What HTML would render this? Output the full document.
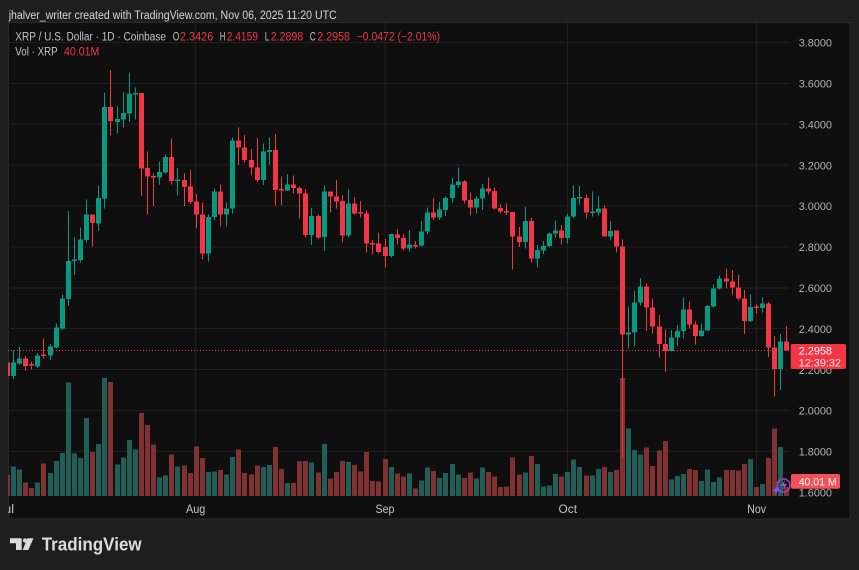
<!DOCTYPE html>
<html><head><meta charset="utf-8"><style>
html,body{margin:0;padding:0;background:#1e1e1e;}
svg{display:block;}
text{font-family:"Liberation Sans",Arial,sans-serif;}
</style></head><body>
<svg width="859" height="570" viewBox="0 0 859 570" xmlns="http://www.w3.org/2000/svg">
<defs>
<clipPath id="pane"><rect x="8" y="23" width="782" height="473"/></clipPath>
<clipPath id="taxis"><rect x="8" y="496" width="842" height="23"/></clipPath>
</defs>
<rect x="0" y="0" width="859" height="570" fill="#1e1e1e"/>
<text x="8.7" y="19" font-size="11.5" fill="#d6d6d6" textLength="328" lengthAdjust="spacingAndGlyphs">jhalver_writer created with TradingView.com, Nov 06, 2025 11:20 UTC</text>
<rect x="8.5" y="22.5" width="841.5" height="496.5" fill="#0f0f0f" stroke="#2a2a2a" stroke-width="1"/>

<!-- grid -->
<g stroke="#1f1f1f" stroke-width="1" shape-rendering="crispEdges">
<line x1="8" y1="42.4" x2="790" y2="42.4"/>
<line x1="8" y1="83.3" x2="790" y2="83.3"/>
<line x1="8" y1="124.2" x2="790" y2="124.2"/>
<line x1="8" y1="165.1" x2="790" y2="165.1"/>
<line x1="8" y1="206" x2="790" y2="206"/>
<line x1="8" y1="246.9" x2="790" y2="246.9"/>
<line x1="8" y1="287.8" x2="790" y2="287.8"/>
<line x1="8" y1="328.7" x2="790" y2="328.7"/>
<line x1="8" y1="369.6" x2="790" y2="369.6"/>
<line x1="8" y1="410.5" x2="790" y2="410.5"/>
<line x1="8" y1="451.4" x2="790" y2="451.4"/>
<line x1="8" y1="492.3" x2="790" y2="492.3"/>
<line x1="195.5" y1="23" x2="195.5" y2="496"/>
<line x1="385" y1="23" x2="385" y2="496"/>
<line x1="567.5" y1="23" x2="567.5" y2="496"/>
<line x1="756.5" y1="23" x2="756.5" y2="496"/>
</g>

<g clip-path="url(#pane)" shape-rendering="crispEdges">
<!-- volume green -->
<g fill="#215e57">
<rect x="11" y="466.7" width="5" height="29.3"/><rect x="17" y="469.3" width="5" height="26.7"/><rect x="35" y="482.3" width="5" height="13.7"/><rect x="48" y="473" width="5" height="23"/><rect x="54" y="461" width="5" height="35"/><rect x="60" y="453" width="5" height="43"/><rect x="66" y="382.3" width="5" height="113.7"/><rect x="72" y="453.3" width="5" height="42.7"/><rect x="78" y="458" width="5" height="38"/><rect x="84" y="418" width="5" height="78"/><rect x="96" y="444" width="5" height="52"/><rect x="102" y="378" width="5" height="118"/><rect x="115" y="464.3" width="5" height="31.7"/><rect x="121" y="457.7" width="5" height="38.3"/><rect x="127" y="440" width="5" height="56"/><rect x="133" y="449.7" width="5" height="46.3"/><rect x="157" y="477.7" width="5" height="18.3"/><rect x="163" y="475.7" width="5" height="20.3"/><rect x="175" y="466.3" width="5" height="29.7"/><rect x="206" y="472" width="5" height="24"/><rect x="212" y="471.3" width="5" height="24.7"/><rect x="224" y="474.7" width="5" height="21.3"/><rect x="230" y="457" width="5" height="39"/><rect x="261" y="467" width="5" height="29"/><rect x="267" y="465" width="5" height="31"/><rect x="285" y="483" width="5" height="13"/><rect x="309" y="462.3" width="5" height="33.7"/><rect x="322" y="444" width="5" height="52"/><rect x="346" y="462" width="5" height="34"/><rect x="389" y="467" width="5" height="29"/><rect x="407" y="473.7" width="5" height="22.3"/><rect x="419" y="480.7" width="5" height="15.3"/><rect x="425" y="467.3" width="5" height="28.7"/><rect x="437" y="478" width="5" height="18"/><rect x="443" y="473" width="5" height="23"/><rect x="450" y="464" width="5" height="32"/><rect x="456" y="474.3" width="5" height="21.7"/><rect x="474" y="478.7" width="5" height="17.3"/><rect x="480" y="467.3" width="5" height="28.7"/><rect x="523" y="472.3" width="5" height="23.7"/><rect x="535" y="464" width="5" height="32"/><rect x="541" y="486.3" width="5" height="9.7"/><rect x="547" y="485.7" width="5" height="10.3"/><rect x="553" y="474" width="5" height="22"/><rect x="565" y="472" width="5" height="24"/><rect x="571" y="459.7" width="5" height="36.3"/><rect x="577" y="467" width="5" height="29"/><rect x="590" y="475.7" width="5" height="20.3"/><rect x="596" y="469" width="5" height="27"/><rect x="608" y="472" width="5" height="24"/><rect x="626" y="428.3" width="5" height="67.7"/><rect x="632" y="450" width="5" height="46"/><rect x="638" y="454.3" width="5" height="41.7"/><rect x="669" y="479.3" width="5" height="16.7"/><rect x="675" y="476" width="5" height="20"/><rect x="681" y="474" width="5" height="22"/><rect x="699" y="481" width="5" height="15"/><rect x="705" y="469.7" width="5" height="26.3"/><rect x="711" y="482" width="5" height="14"/><rect x="717" y="477.7" width="5" height="18.3"/><rect x="748" y="459" width="5" height="37"/><rect x="760" y="484" width="5" height="12"/><rect x="778" y="447" width="5" height="49"/>
</g>
<!-- volume red -->
<g fill="#7f3231">
<rect x="5" y="475" width="5" height="21"/><rect x="23" y="482.7" width="5" height="13.3"/><rect x="29" y="488" width="5" height="8"/><rect x="41" y="463.3" width="5" height="32.7"/><rect x="90" y="452" width="5" height="44"/><rect x="108" y="382" width="5" height="114"/><rect x="139" y="413" width="5" height="83"/><rect x="145" y="425" width="5" height="71"/><rect x="151" y="444.3" width="5" height="51.7"/><rect x="169" y="454.3" width="5" height="41.7"/><rect x="182" y="465.3" width="5" height="30.7"/><rect x="188" y="473" width="5" height="23"/><rect x="194" y="446.3" width="5" height="49.7"/><rect x="200" y="458" width="5" height="38"/><rect x="218" y="470" width="5" height="26"/><rect x="236" y="449.3" width="5" height="46.7"/><rect x="242" y="473" width="5" height="23"/><rect x="249" y="474.3" width="5" height="21.7"/><rect x="255" y="465.7" width="5" height="30.3"/><rect x="273" y="447" width="5" height="49"/><rect x="279" y="469" width="5" height="27"/><rect x="291" y="483" width="5" height="13"/><rect x="297" y="461" width="5" height="35"/><rect x="303" y="461" width="5" height="35"/><rect x="316" y="472.7" width="5" height="23.3"/><rect x="328" y="478.3" width="5" height="17.7"/><rect x="334" y="472" width="5" height="24"/><rect x="340" y="461" width="5" height="35"/><rect x="352" y="465" width="5" height="31"/><rect x="358" y="471.3" width="5" height="24.7"/><rect x="364" y="452" width="5" height="44"/><rect x="370" y="481" width="5" height="15"/><rect x="376" y="481.3" width="5" height="14.7"/><rect x="383" y="459" width="5" height="37"/><rect x="395" y="473.7" width="5" height="22.3"/><rect x="401" y="476.7" width="5" height="19.3"/><rect x="413" y="488.3" width="5" height="7.7"/><rect x="431" y="471" width="5" height="25"/><rect x="462" y="478" width="5" height="18"/><rect x="468" y="472.7" width="5" height="23.3"/><rect x="486" y="472" width="5" height="24"/><rect x="492" y="476.3" width="5" height="19.7"/><rect x="498" y="487" width="5" height="9"/><rect x="504" y="486.3" width="5" height="9.7"/><rect x="510" y="457.7" width="5" height="38.3"/><rect x="517" y="474.3" width="5" height="21.7"/><rect x="529" y="456" width="5" height="40"/><rect x="559" y="476.3" width="5" height="19.7"/><rect x="584" y="475.3" width="5" height="20.7"/><rect x="602" y="467" width="5" height="29"/><rect x="614" y="470" width="5" height="26"/><rect x="620" y="378" width="5" height="118"/><rect x="644" y="447.7" width="5" height="48.3"/><rect x="650" y="466" width="5" height="30"/><rect x="657" y="450.7" width="5" height="45.3"/><rect x="663" y="441" width="5" height="55"/><rect x="687" y="469" width="5" height="27"/><rect x="693" y="470" width="5" height="26"/><rect x="724" y="470" width="5" height="26"/><rect x="730" y="470" width="5" height="26"/><rect x="736" y="470.3" width="5" height="25.7"/><rect x="742" y="464" width="5" height="32"/><rect x="754" y="487" width="5" height="9"/><rect x="766" y="458" width="5" height="38"/><rect x="772" y="428.3" width="5" height="67.7"/><rect x="784" y="487" width="5" height="9"/>
</g>

<!-- green candles -->
<g fill="#089981">
<rect x="13" y="350.7" width="1" height="28.3"/><rect x="11" y="362.7" width="5" height="13.3"/>
<rect x="19" y="346.7" width="1" height="18.3"/><rect x="17" y="358.3" width="5" height="5"/>
<rect x="37" y="353.3" width="1" height="14.7"/><rect x="35" y="355.3" width="5" height="11.4"/>
<rect x="50" y="344" width="1" height="16"/><rect x="48" y="346.7" width="5" height="9"/>
<rect x="56" y="323.3" width="1" height="25.4"/><rect x="54" y="327.7" width="5" height="19.6"/>
<rect x="62" y="294.3" width="1" height="35.7"/><rect x="60" y="298.7" width="5" height="29.6"/>
<rect x="68" y="211" width="1" height="95"/><rect x="66" y="261" width="5" height="38"/>
<rect x="74" y="237.3" width="1" height="37.7"/><rect x="72" y="259.3" width="5" height="1.7"/>
<rect x="80" y="227.3" width="1" height="35.4"/><rect x="78" y="239.3" width="5" height="20.7"/>
<rect x="86" y="199.3" width="1" height="43.4"/><rect x="84" y="214.3" width="5" height="25.7"/>
<rect x="98" y="185.3" width="1" height="45.7"/><rect x="96" y="198" width="5" height="25.3"/>
<rect x="104" y="92.7" width="1" height="116"/><rect x="102" y="107" width="5" height="91.3"/>
<rect x="117" y="106" width="1" height="27.3"/><rect x="115" y="119" width="5" height="3"/>
<rect x="123" y="92" width="1" height="35.3"/><rect x="121" y="113" width="5" height="6.3"/>
<rect x="129" y="72.7" width="1" height="49.3"/><rect x="127" y="93.3" width="5" height="20"/>
<rect x="135" y="87.3" width="1" height="32"/><rect x="133" y="93" width="5" height="1.5"/>
<rect x="159" y="161.3" width="1" height="23"/><rect x="157" y="172" width="5" height="5.3"/>
<rect x="165" y="154.3" width="1" height="19.4"/><rect x="163" y="157" width="5" height="15.3"/>
<rect x="177" y="168" width="1" height="27.3"/><rect x="175" y="179.5" width="5" height="1.5"/>
<rect x="208" y="214.3" width="1" height="47.4"/><rect x="206" y="217" width="5" height="36.7"/>
<rect x="214" y="188.3" width="1" height="31.7"/><rect x="212" y="191.3" width="5" height="25.7"/>
<rect x="226" y="202.3" width="1" height="24.4"/><rect x="224" y="208.3" width="5" height="6"/>
<rect x="232" y="137.7" width="1" height="76"/><rect x="230" y="140.7" width="5" height="67.6"/>
<rect x="263" y="143.3" width="1" height="41.7"/><rect x="261" y="151.3" width="5" height="28.7"/>
<rect x="269" y="137.7" width="1" height="27"/><rect x="267" y="150" width="5" height="2"/>
<rect x="287" y="174" width="1" height="17"/><rect x="285" y="184.3" width="5" height="6"/>
<rect x="311" y="208" width="1" height="37"/><rect x="309" y="216" width="5" height="19"/>
<rect x="324" y="185" width="1" height="66"/><rect x="322" y="191.3" width="5" height="45.7"/>
<rect x="348" y="189.3" width="1" height="48.4"/><rect x="346" y="203.3" width="5" height="32.4"/>
<rect x="391" y="234" width="1" height="23.3"/><rect x="389" y="234" width="5" height="22"/>
<rect x="409" y="230" width="1" height="21.7"/><rect x="407" y="244.3" width="5" height="4.4"/>
<rect x="421" y="221" width="1" height="25.7"/><rect x="419" y="231.7" width="5" height="14"/>
<rect x="427" y="207.3" width="1" height="26.7"/><rect x="425" y="212.3" width="5" height="19.4"/>
<rect x="439" y="201.3" width="1" height="18.7"/><rect x="437" y="209.3" width="5" height="8"/>
<rect x="445" y="196.7" width="1" height="19.3"/><rect x="443" y="198" width="5" height="12"/>
<rect x="452" y="178" width="1" height="24.7"/><rect x="450" y="184.3" width="5" height="13.7"/>
<rect x="458" y="167.7" width="1" height="19.6"/><rect x="456" y="181.3" width="5" height="3.7"/>
<rect x="476" y="196.7" width="1" height="16.6"/><rect x="474" y="198.3" width="5" height="9"/>
<rect x="482" y="184" width="1" height="26"/><rect x="480" y="188.7" width="5" height="10"/>
<rect x="525" y="207" width="1" height="41.7"/><rect x="523" y="221" width="5" height="21"/>
<rect x="537" y="245" width="1" height="22.3"/><rect x="535" y="250" width="5" height="8.7"/>
<rect x="543" y="241" width="1" height="13.3"/><rect x="541" y="246" width="5" height="4.7"/>
<rect x="549" y="232.3" width="1" height="15"/><rect x="547" y="233.3" width="5" height="12.7"/>
<rect x="555" y="220.7" width="1" height="17.3"/><rect x="553" y="230.7" width="5" height="2.6"/>
<rect x="567" y="213.3" width="1" height="30"/><rect x="565" y="216.7" width="5" height="21.3"/>
<rect x="573" y="185.3" width="1" height="32.7"/><rect x="571" y="198" width="5" height="18.7"/>
<rect x="579" y="186" width="1" height="18.3"/><rect x="577" y="197" width="5" height="1.5"/>
<rect x="592" y="191.3" width="1" height="25.4"/><rect x="590" y="211.5" width="5" height="1.5"/>
<rect x="598" y="196" width="1" height="19.3"/><rect x="596" y="208.7" width="5" height="4"/>
<rect x="610" y="221" width="1" height="19.7"/><rect x="608" y="231" width="5" height="5.3"/>
<rect x="628" y="306.7" width="1" height="41.6"/><rect x="626" y="332.3" width="5" height="2"/>
<rect x="634" y="290.7" width="1" height="56"/><rect x="632" y="302.7" width="5" height="29.6"/>
<rect x="640" y="278" width="1" height="27.7"/><rect x="638" y="286.7" width="5" height="16"/>
<rect x="671" y="330" width="1" height="21.7"/><rect x="669" y="337.3" width="5" height="13.7"/>
<rect x="677" y="325" width="1" height="21"/><rect x="675" y="331" width="5" height="6.3"/>
<rect x="683" y="297.7" width="1" height="40.6"/><rect x="681" y="309.3" width="5" height="21.7"/>
<rect x="701" y="323.3" width="1" height="13.4"/><rect x="699" y="330.3" width="5" height="5.7"/>
<rect x="707" y="305" width="1" height="26"/><rect x="705" y="306" width="5" height="24.3"/>
<rect x="713" y="284.3" width="1" height="23.4"/><rect x="711" y="288.7" width="5" height="18"/>
<rect x="719" y="275.3" width="1" height="14"/><rect x="717" y="278.7" width="5" height="10"/>
<rect x="750" y="294.3" width="1" height="27.7"/><rect x="748" y="307" width="5" height="14"/>
<rect x="762" y="297.3" width="1" height="15.4"/><rect x="760" y="303.3" width="5" height="4.7"/>
<rect x="780" y="334" width="1" height="56"/><rect x="778" y="341.3" width="5" height="27.7"/>
</g>
<!-- red candles -->
<g fill="#f23645">
<rect x="7" y="360" width="1" height="18"/><rect x="5" y="362.7" width="5" height="13.3"/>
<rect x="25" y="356" width="1" height="14.7"/><rect x="23" y="358.3" width="5" height="7.7"/>
<rect x="31" y="361.7" width="1" height="7.6"/><rect x="29" y="364" width="5" height="1.5"/>
<rect x="43" y="338.3" width="1" height="20"/><rect x="41" y="354.5" width="5" height="1.5"/>
<rect x="92" y="214.3" width="1" height="32.4"/><rect x="90" y="214.3" width="5" height="8.7"/>
<rect x="110" y="70" width="1" height="65.7"/><rect x="108" y="107" width="5" height="14"/>
<rect x="141" y="93" width="1" height="103"/><rect x="139" y="93" width="5" height="75.7"/>
<rect x="147" y="151.3" width="1" height="63"/><rect x="145" y="168" width="5" height="8.7"/>
<rect x="153" y="173.3" width="1" height="32.7"/><rect x="151" y="176" width="5" height="1.5"/>
<rect x="171" y="138.3" width="1" height="46"/><rect x="169" y="157" width="5" height="24"/>
<rect x="184" y="173" width="1" height="33"/><rect x="182" y="180" width="5" height="7"/>
<rect x="190" y="170" width="1" height="34"/><rect x="188" y="186.3" width="5" height="15.7"/>
<rect x="196" y="194" width="1" height="34"/><rect x="194" y="201.3" width="5" height="13.4"/>
<rect x="202" y="202.3" width="1" height="57.4"/><rect x="200" y="214.3" width="5" height="39.4"/>
<rect x="220" y="184.3" width="1" height="42.4"/><rect x="218" y="191.3" width="5" height="23"/>
<rect x="238" y="127.3" width="1" height="37.7"/><rect x="236" y="140.7" width="5" height="7"/>
<rect x="244" y="135" width="1" height="27.7"/><rect x="242" y="147.7" width="5" height="12.3"/>
<rect x="251" y="149" width="1" height="26"/><rect x="249" y="160" width="5" height="7.7"/>
<rect x="257" y="138" width="1" height="44"/><rect x="255" y="167.7" width="5" height="12.3"/>
<rect x="275" y="134" width="1" height="71.7"/><rect x="273" y="150" width="5" height="40"/>
<rect x="281" y="176.7" width="1" height="28.3"/><rect x="279" y="189" width="5" height="1.5"/>
<rect x="293" y="175.3" width="1" height="18"/><rect x="291" y="184.3" width="5" height="3.7"/>
<rect x="299" y="186.7" width="1" height="31.6"/><rect x="297" y="188" width="5" height="5.7"/>
<rect x="305" y="189" width="1" height="48.3"/><rect x="303" y="193.7" width="5" height="41.3"/>
<rect x="318" y="214.3" width="1" height="24.7"/><rect x="316" y="216" width="5" height="21.3"/>
<rect x="330" y="191.3" width="1" height="21.4"/><rect x="328" y="191.3" width="5" height="5.4"/>
<rect x="336" y="180" width="1" height="28.3"/><rect x="334" y="196.7" width="5" height="4.6"/>
<rect x="342" y="195" width="1" height="47.3"/><rect x="340" y="201" width="5" height="34.7"/>
<rect x="354" y="197" width="1" height="17.3"/><rect x="352" y="203.3" width="5" height="10"/>
<rect x="360" y="201" width="1" height="16.3"/><rect x="358" y="212" width="5" height="1.5"/>
<rect x="366" y="210.7" width="1" height="41.6"/><rect x="364" y="213.3" width="5" height="30"/>
<rect x="372" y="240" width="1" height="14.7"/><rect x="370" y="243" width="5" height="1.5"/>
<rect x="378" y="232.7" width="1" height="20.6"/><rect x="376" y="243.3" width="5" height="8.7"/>
<rect x="385" y="239" width="1" height="28.7"/><rect x="383" y="247" width="5" height="9"/>
<rect x="397" y="229" width="1" height="15.3"/><rect x="395" y="234.7" width="5" height="3.3"/>
<rect x="403" y="234" width="1" height="16.3"/><rect x="401" y="238" width="5" height="10.7"/>
<rect x="415" y="241" width="1" height="7.7"/><rect x="413" y="245" width="5" height="1.5"/>
<rect x="433" y="198.7" width="1" height="21.3"/><rect x="431" y="212.3" width="5" height="5"/>
<rect x="464" y="180" width="1" height="23.7"/><rect x="462" y="181.3" width="5" height="19.4"/>
<rect x="470" y="192.3" width="1" height="23.4"/><rect x="468" y="200" width="5" height="7.3"/>
<rect x="488" y="177.3" width="1" height="17"/><rect x="486" y="188.7" width="5" height="2.6"/>
<rect x="494" y="187.3" width="1" height="22.4"/><rect x="492" y="191" width="5" height="17.7"/>
<rect x="500" y="204" width="1" height="9.3"/><rect x="498" y="208" width="5" height="3.3"/>
<rect x="506" y="203.3" width="1" height="11.7"/><rect x="504" y="211" width="5" height="1.5"/>
<rect x="512" y="212" width="1" height="57.7"/><rect x="510" y="212" width="5" height="24.3"/>
<rect x="519" y="227" width="1" height="20"/><rect x="517" y="236.3" width="5" height="5.7"/>
<rect x="531" y="217.3" width="1" height="45"/><rect x="529" y="221" width="5" height="37.7"/>
<rect x="561" y="225" width="1" height="19.3"/><rect x="559" y="230.7" width="5" height="7.3"/>
<rect x="586" y="194.7" width="1" height="24"/><rect x="584" y="198" width="5" height="14.7"/>
<rect x="604" y="205.7" width="1" height="30.6"/><rect x="602" y="208.7" width="5" height="27.6"/>
<rect x="616" y="230.7" width="1" height="21.6"/><rect x="614" y="230.7" width="5" height="16"/>
<rect x="622" y="239.3" width="1" height="217.7"/><rect x="620" y="246.7" width="5" height="87.6"/>
<rect x="646" y="283.3" width="1" height="47.7"/><rect x="644" y="286.7" width="5" height="21"/>
<rect x="652" y="298.3" width="1" height="35"/><rect x="650" y="307.7" width="5" height="19"/>
<rect x="659" y="315" width="1" height="42.7"/><rect x="657" y="326.7" width="5" height="17.3"/>
<rect x="665" y="329.3" width="1" height="42.7"/><rect x="663" y="344" width="5" height="7"/>
<rect x="689" y="301.7" width="1" height="27"/><rect x="687" y="309.7" width="5" height="14.6"/>
<rect x="695" y="321.7" width="1" height="22.6"/><rect x="693" y="324.3" width="5" height="11.7"/>
<rect x="726" y="268.3" width="1" height="20"/><rect x="724" y="278.7" width="5" height="2.6"/>
<rect x="732" y="270" width="1" height="25"/><rect x="730" y="281.3" width="5" height="6.4"/>
<rect x="738" y="275" width="1" height="25.7"/><rect x="736" y="287.7" width="5" height="11"/>
<rect x="744" y="290" width="1" height="44"/><rect x="742" y="298.3" width="5" height="22.7"/>
<rect x="756" y="304.3" width="1" height="9"/><rect x="754" y="306.5" width="5" height="1.5"/>
<rect x="768" y="302" width="1" height="55"/><rect x="766" y="303.3" width="5" height="44.4"/>
<rect x="774" y="336" width="1" height="60.7"/><rect x="772" y="347.7" width="5" height="21.3"/>
<rect x="786" y="326" width="1" height="24.7"/><rect x="784" y="341.3" width="5" height="9.4"/>
</g>
<!-- price line -->
<line x1="8" y1="350.5" x2="790" y2="350.5" stroke="#f23645" stroke-width="1" stroke-dasharray="1 2"/>
</g>

<!-- legend -->
<text x="15.3" y="40.7" font-size="11.5" fill="#c2c2c2" textLength="150.7" lengthAdjust="spacingAndGlyphs">XRP / U.S. Dollar · 1D · Coinbase</text>
<text x="172.7" y="40.7" font-size="11.5" fill="#c2c2c2" textLength="6.6" lengthAdjust="spacingAndGlyphs">O</text>
<text x="180" y="40.7" font-size="11.5" fill="#f23645" textLength="33.3" lengthAdjust="spacingAndGlyphs">2.3426</text>
<text x="219.7" y="40.7" font-size="11.5" fill="#c2c2c2" textLength="5.6" lengthAdjust="spacingAndGlyphs">H</text>
<text x="226.7" y="40.7" font-size="11.5" fill="#f23645" textLength="31.3" lengthAdjust="spacingAndGlyphs">2.4159</text>
<text x="264.7" y="40.7" font-size="11.5" fill="#c2c2c2" textLength="4.6" lengthAdjust="spacingAndGlyphs">L</text>
<text x="270.7" y="40.7" font-size="11.5" fill="#f23645" textLength="32.6" lengthAdjust="spacingAndGlyphs">2.2898</text>
<text x="309.7" y="40.7" font-size="11.5" fill="#c2c2c2" textLength="6" lengthAdjust="spacingAndGlyphs">C</text>
<text x="317.3" y="40.7" font-size="11.5" fill="#f23645" textLength="32.7" lengthAdjust="spacingAndGlyphs">2.2958</text>
<text x="356.7" y="40.7" font-size="11.5" fill="#f23645" textLength="83.3" lengthAdjust="spacingAndGlyphs">−0.0472 (−2.01%)</text>
<text x="15.3" y="55.7" font-size="11.5" fill="#c2c2c2" textLength="42.4" lengthAdjust="spacingAndGlyphs">Vol · XRP</text>
<text x="64" y="55.7" font-size="11.5" fill="#f23645" textLength="35.3" lengthAdjust="spacingAndGlyphs">40.01M</text>

<!-- price axis -->
<g font-size="11" fill="#b2b2b2">
<text x="798.7" y="46.6" textLength="33.3" lengthAdjust="spacingAndGlyphs">3.8000</text>
<text x="798.7" y="87.5" textLength="33.3" lengthAdjust="spacingAndGlyphs">3.6000</text>
<text x="798.7" y="128.4" textLength="33.3" lengthAdjust="spacingAndGlyphs">3.4000</text>
<text x="798.7" y="169.3" textLength="33.3" lengthAdjust="spacingAndGlyphs">3.2000</text>
<text x="798.7" y="210.2" textLength="33.3" lengthAdjust="spacingAndGlyphs">3.0000</text>
<text x="798.7" y="251.1" textLength="33.3" lengthAdjust="spacingAndGlyphs">2.8000</text>
<text x="798.7" y="292" textLength="33.3" lengthAdjust="spacingAndGlyphs">2.6000</text>
<text x="798.7" y="332.9" textLength="33.3" lengthAdjust="spacingAndGlyphs">2.4000</text>
<text x="798.7" y="373.8" textLength="33.3" lengthAdjust="spacingAndGlyphs">2.2000</text>
<text x="798.7" y="414.7" textLength="33.3" lengthAdjust="spacingAndGlyphs">2.0000</text>
<text x="798.7" y="455.6" textLength="33.3" lengthAdjust="spacingAndGlyphs">1.8000</text>
<text x="798.7" y="496.5" textLength="33.3" lengthAdjust="spacingAndGlyphs">1.6000</text>
</g>

<!-- price label -->
<rect x="790.7" y="344" width="55.3" height="25" rx="2" fill="#f23645"/>
<text x="798.7" y="354.5" font-size="11" fill="#ffffff" textLength="33.3" lengthAdjust="spacingAndGlyphs">2.2958</text>
<text x="798.7" y="366.5" font-size="11" fill="#ffe3e6" textLength="42.3" lengthAdjust="spacingAndGlyphs">12:39:32</text>
<!-- volume label -->
<rect x="791" y="474" width="49" height="14.7" rx="2" fill="#f4505c"/>
<text x="798.7" y="485.3" font-size="11" fill="#ffffff" textLength="38" lengthAdjust="spacingAndGlyphs">40.01 M</text>

<!-- icon -->
<g>
<circle cx="783.5" cy="485.5" r="6.5" fill="none" stroke="#9b3fc8" stroke-width="1.6"/>
<path d="M785 480 L781 486 L784 486 L782 491 L787 484 L784 484 Z" fill="#b04fe0"/>
<path d="M776 486.5 l1.2 2.6 2.6 1.2 -2.6 1.2 -1.2 2.6 -1.2 -2.6 -2.6 -1.2 2.6 -1.2 z" fill="#6a5cff"/>
</g>

<!-- time axis -->
<g font-size="11.5" fill="#c6c6c6" clip-path="url(#taxis)">
<text x="-2" y="513" textLength="16" lengthAdjust="spacingAndGlyphs">Jul</text>
<text x="186" y="513" textLength="19.3" lengthAdjust="spacingAndGlyphs">Aug</text>
<text x="375.5" y="513" textLength="19" lengthAdjust="spacingAndGlyphs">Sep</text>
<text x="558.5" y="513" textLength="18.5" lengthAdjust="spacingAndGlyphs">Oct</text>
<text x="747.3" y="513" textLength="18.7" lengthAdjust="spacingAndGlyphs">Nov</text>
</g>

<!-- logo -->
<g fill="#dcdcdc">
<path d="M10 538.3 H21.7 V550 H16 V543.3 H10 Z"/>
<circle cx="25" cy="540.5" r="2.1"/>
<path d="M27.3 538.3 H33.5 L28.3 550 H22.7 Z"/>
</g>
<text x="41.7" y="550.7" font-size="18" font-weight="bold" fill="#dcdcdc" textLength="100" lengthAdjust="spacingAndGlyphs">TradingView</text>
</svg>
</body></html>
